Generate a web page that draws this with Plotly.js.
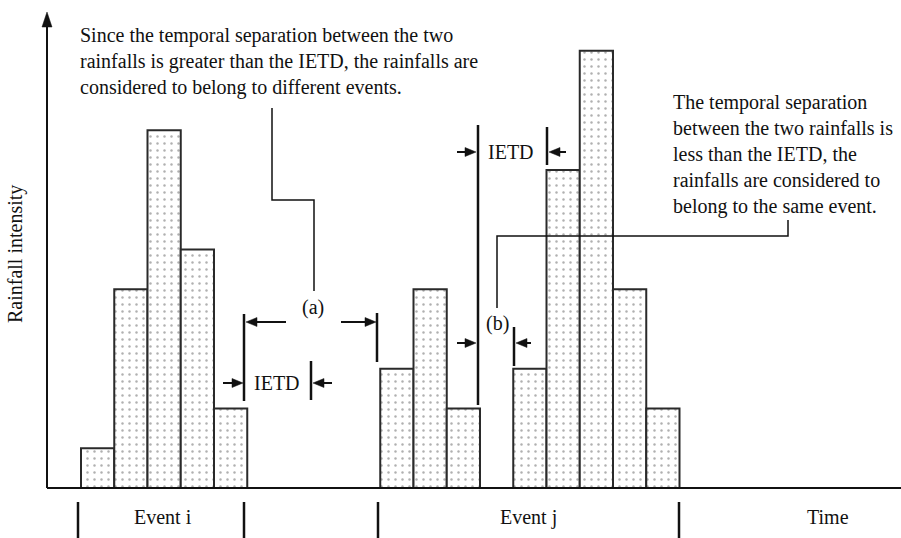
<!DOCTYPE html>
<html>
<head>
<meta charset="utf-8">
<script src="https://cdn.plot.ly/plotly-3.0.1.min.js"></script>
<style>html,body{margin:0;padding:0;background:#fff;}#chart{width:901px;height:538px;}</style>
</head>
<body>
<div id="chart"></div>
<script>
// Time slots (bar left edges, in time steps) and rainfall intensities (units)
const timeSlots = [0, 1, 2, 3, 4, 9, 10, 11, 13, 14, 15, 16, 17];
const intensity = [1, 5, 9, 6, 2, 3, 5, 2, 3, 8, 11, 5, 2];
const eventLabels = ["Event i", "Event j", "Time"];
const topNote = "Since the temporal separation between the two<br>rainfalls is greater than the IETD, the rainfalls are<br>considered to belong to different events.";
const rightNote = "The temporal separation<br>between the two rainfalls is<br>less than the IETD, the<br>rainfalls are considered to<br>belong to the same event.";

const W = 901, H = 538;
const X0 = 81, XU = 33.25, Y0 = 488, YU = 39.75;
const FONT = "Liberation Serif, Times New Roman, serif";
const FS = 20;

function px(x){ return x / W; }
function py(y){ return 1 - y / H; }

const shapes = [];
const annotations = [];

function line(x1, y1, x2, y2, w){
  shapes.push({type:'line', xref:'paper', yref:'paper', x0:px(x1), y0:py(y1), x1:px(x2), y1:py(y2),
    line:{color:'#111', width:w}});
}
function path(pts, w){
  let d = pts.map((p,i)=> (i?'L':'M') + px(p[0]) + ',' + py(p[1])).join(' ');
  shapes.push({type:'path', xref:'paper', yref:'paper', path:d, line:{color:'#111', width:w}});
}
function tri(pts){
  let d = pts.map((p,i)=> (i?'L':'M') + px(p[0]) + ',' + py(p[1])).join(' ') + ' Z';
  shapes.push({type:'path', xref:'paper', yref:'paper', path:d, fillcolor:'#111', line:{color:'#111', width:0.5}});
}
function harrow(tail, tip, y){
  const dir = Math.sign(tip - tail), hl = 11, hw = 4.5;
  line(tail, y, tip - dir*hl, y, 2);
  tri([[tip, y], [tip - dir*hl, y - hw], [tip - dir*hl, y + hw]]);
}
function label(text, x, y, xanchor, align){
  annotations.push({xref:'paper', yref:'paper', x:px(x), y:py(y), text:text, showarrow:false,
    xanchor:xanchor||'center', yanchor:'middle', align:align||'center',
    font:{family:FONT, size:FS, color:'#111'}});
}

// Axes with arrows
line(47, Y0, 901, Y0, 2);
line(47, Y0, 47, 24, 2);
tri([[47, 12], [42, 27], [52, 27]]);

// (a) annotation
harrow(286, 246, 322);
harrow(341, 376, 322);
line(244, 314, 244, 401, 2.5);
line(377, 313, 377, 362, 2.5);
harrow(223, 243, 383);
harrow(332, 313, 383);
line(311, 361, 311, 400, 2.5);
path([[272,108],[272,200],[314,200],[314,291]], 1.5);
label("(a)", 313, 307);
label("IETD", 277, 383);

// (b) annotation
line(478, 125, 478, 405, 2.5);
harrow(457, 476, 152);
harrow(566, 549, 152);
line(547, 127, 547, 165, 2.5);
label("IETD", 511, 152);
harrow(457, 476, 343);
harrow(531, 516, 343);
line(514, 327, 514, 366, 2.5);
path([[788,220],[788,236],[497,236],[497,308]], 1.5);
label("(b)", 497, 323);

// event markers at bottom
[78, 244, 378, 679].forEach(x => line(x, 502, x, 538, 2.5));
label(eventLabels[0], 163, 517);
label(eventLabels[1], 528, 517);
label(eventLabels[2], 828, 517);

// notes
label(topNote, 78, 61.5, 'left', 'left');
label(rightNote, 671, 154.5, 'left', 'left');

// y axis title
annotations.push({xref:'paper', yref:'paper', x:px(15), y:py(254), text:"Rainfall intensity", showarrow:false,
  textangle:-90, xanchor:'center', yanchor:'middle', font:{family:FONT, size:FS, color:'#111'}});

const trace = {
  type:'bar',
  x: timeSlots.map(t => t + 0.5),
  y: intensity,
  width: 1,
  marker:{
    color:'#ffffff',
    line:{color:'#2a2a2a', width:2},
    pattern:{shape:'.', fgcolor:'#b0b0b0', bgcolor:'#ffffff', size:7, solidity:0.1}
  },
  hoverinfo:'none'
};

const layout = {
  width: W, height: H,
  margin:{l:0, r:0, t:0, b:0},
  paper_bgcolor:'#fff', plot_bgcolor:'#fff',
  showlegend:false,
  bargap:0,
  xaxis:{range:[-X0/XU, (W-X0)/XU], visible:false, fixedrange:true},
  yaxis:{range:[(Y0-H)/YU, Y0/YU], visible:false, fixedrange:true},
  shapes: shapes,
  annotations: annotations
};

Plotly.newPlot('chart', [trace], layout, {staticPlot:true, displayModeBar:false});
</script>
</body>
</html>
